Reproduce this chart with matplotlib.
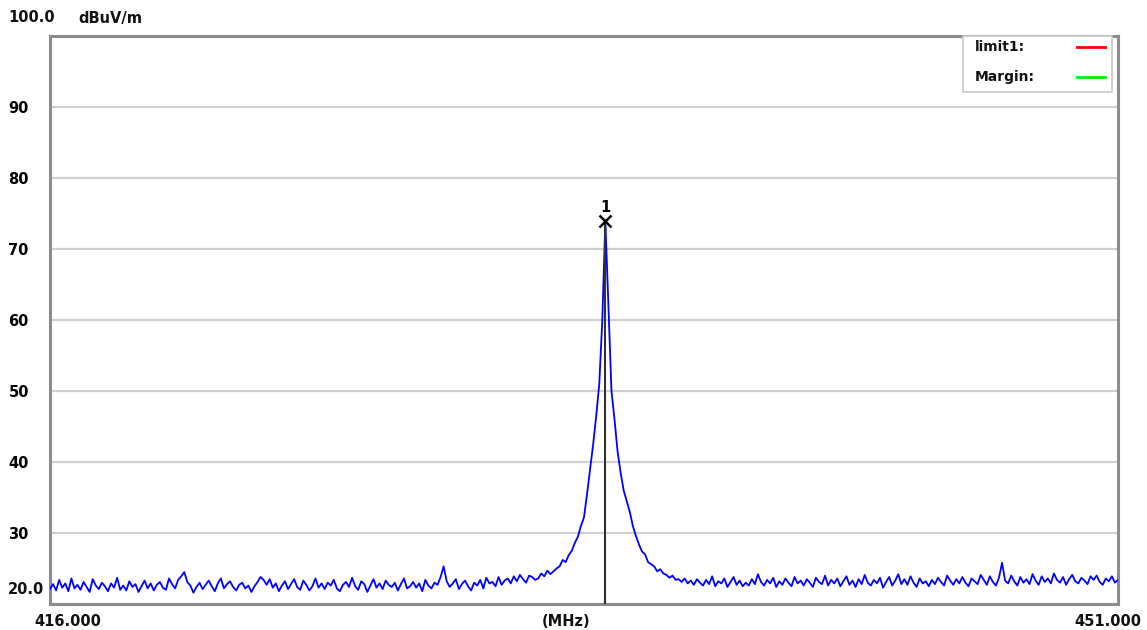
import numpy as np
import matplotlib
matplotlib.use("Agg")
import matplotlib.pyplot as plt
from matplotlib.lines import Line2D
from matplotlib.patches import Rectangle

# ---- data ----
f_start, f_stop, f_step = 416.0, 451.0, 0.1
level = [
    22.1, 22.8, 21.9, 23.4, 22.3, 22.9, 21.8, 23.6, 22.2, 22.7,
    22.0, 23.1, 22.4, 21.7, 23.5, 22.6, 22.1, 23.0, 22.5, 21.8,
    22.9, 22.3, 23.7, 22.0, 22.6, 21.9, 23.2, 22.4, 22.8, 21.7,
    22.5, 23.3, 22.2, 22.9, 21.9, 22.7, 23.1, 22.3, 22.0, 23.6,
    22.8, 22.2, 23.4, 23.9, 24.5, 23.1, 22.6, 21.6, 22.4, 23.0,
    22.1, 22.7, 23.3, 22.5, 21.8, 22.9, 23.6, 22.2, 22.8, 23.2,
    22.4, 21.9, 22.7, 23.0, 22.2, 22.6, 21.7, 22.5, 23.1, 23.8,
    23.4, 22.7, 23.5, 22.3, 22.9, 21.8, 22.6, 23.2, 22.1, 22.8,
    23.5, 22.4, 22.0, 23.3, 22.7, 21.9, 22.5, 23.6, 22.3, 22.9,
    22.1, 23.0, 22.6, 23.4, 22.2, 21.8, 22.7, 23.1, 22.4, 23.7,
    22.5, 22.0, 23.2, 22.8, 21.7, 22.6, 23.5, 22.3, 22.9, 22.1,
    23.3, 22.7, 22.4, 23.0, 21.9, 22.8, 23.6, 22.2, 22.5, 23.1,
    22.3, 22.9, 21.8, 23.4, 22.6, 22.2, 23.0, 22.7, 23.8, 25.3,
    23.2, 22.4, 22.9, 23.5, 22.1, 22.8, 23.3, 22.5, 21.9, 23.0,
    22.6, 23.4, 22.2, 23.7, 22.9, 23.1, 22.5, 23.8, 22.7, 23.3,
    23.6, 22.9, 23.9, 23.2, 24.1, 23.5, 23.0, 24.0, 23.8, 23.4,
    23.6, 24.3, 23.9, 24.7, 24.2, 24.6, 25.0, 25.3, 26.2, 25.9,
    26.9, 27.5, 28.6, 29.5, 31.0, 32.2, 35.5, 39.0, 42.5, 46.5,
    51.0, 60.0, 74.0, 62.0, 50.0, 46.0, 41.5, 38.5, 36.0, 34.5,
    33.0, 31.0, 29.6, 28.4, 27.4, 27.0, 25.9, 25.6, 25.3, 24.6,
    24.9, 24.3, 24.1, 23.7, 24.0, 23.4, 23.5, 23.1, 23.6, 22.9,
    23.3, 22.7, 23.5, 23.0, 22.6, 23.4, 22.8, 23.9, 22.5, 23.2,
    22.9, 23.6, 22.4, 23.1, 23.8, 22.7, 23.3, 22.5, 23.0, 22.6,
    23.5, 22.8, 24.2, 23.1, 22.6, 23.4, 22.9, 23.7, 22.4, 23.2,
    22.7, 23.6, 23.0, 22.5, 23.8, 22.9, 23.3, 22.6, 23.5, 23.0,
    22.4, 23.7, 23.1, 22.8, 24.0, 22.6, 23.4, 22.9, 23.6, 22.5,
    23.2, 23.9, 22.7, 23.3, 22.4, 23.5, 22.8, 24.1, 23.0, 22.6,
    23.4, 22.9, 23.7, 22.3, 23.1, 23.8, 22.6, 23.3, 24.2, 22.8,
    23.5, 22.7, 23.9, 23.0, 22.4, 23.6, 22.9, 23.2, 22.5, 23.4,
    22.8, 23.7, 23.1, 22.6, 24.0, 23.3, 22.7, 23.5, 22.9, 23.8,
    23.0, 22.5, 23.6, 23.2, 22.8, 24.1, 23.4, 22.7, 23.9, 23.1,
    22.6, 23.7, 25.8, 23.3, 22.9, 24.0, 23.2, 22.6, 23.8, 23.0,
    23.5, 22.8, 24.2, 23.3, 22.7, 23.9, 23.1, 23.6, 22.9, 24.3,
    23.4, 23.0, 23.8, 22.7, 23.5, 24.1, 23.2, 22.9, 23.7, 23.3,
    22.8, 23.9, 23.4, 24.0, 23.1, 22.7, 23.6, 23.2, 23.9, 23.0,
    23.4,
]
marker_freq = 434.2
marker_level = 74.0
y_ticks = [30, 40, 50, 60, 70, 80, 90]
y_tick_labels = ["30", "40", "50", "60", "70", "80", "90"]
y_min, y_max = 20.0, 100.0
unit_label = "dBuV/m"
x_unit_label = "(MHz)"
x_unit_pos = 432.9
legend_items = [("limit1:", "#ff0000"), ("Margin:", "#00ee00")]

freq = f_start + f_step * np.arange(len(level))

# ---- figure ----
W, H = 1147, 630
fig = plt.figure(figsize=(W / 100, H / 100), dpi=100)
fig.patch.set_facecolor("white")
ax = fig.add_axes([50 / W, 1 - 604 / H, (1118 - 50) / W, (604 - 36) / H])
ax.set_xlim(f_start, f_stop)
ax.set_ylim(y_min, y_max)

for s in ax.spines.values():
    s.set_color("#8c8c8c")
    s.set_linewidth(2.2)

ax.set_yticks(y_ticks)
ax.set_yticklabels(y_tick_labels)
ax.tick_params(axis="y", length=0, pad=30, labelsize=10.5)
for lbl in ax.get_yticklabels():
    lbl.set_horizontalalignment("left")
    lbl.set_fontweight("bold")
ax.set_xticks([])
ax.grid(axis="y", color="#cfcfcf", linewidth=1.6)
ax.set_axisbelow(True)

ax.plot(freq, level, color="#0000ff", linewidth=1.3, zorder=3)

# marker
ax.plot([marker_freq, marker_freq], [y_min, marker_level], color="#303030", linewidth=1.5, zorder=4)
ax.plot([marker_freq], [marker_level], marker="x", color="black", markersize=8,
        markeredgewidth=1.8, zorder=5)
ax.annotate("1", (marker_freq, marker_level), xytext=(0, 4), textcoords="offset points",
            ha="center", va="bottom", fontsize=10.5, fontweight="bold")

# axis texts
tf = dict(fontsize=10.5, fontweight="bold", color="#111111")
fig.text(8 / W, 1 - 18 / H, "100.0", ha="left", va="center", **tf)
fig.text(78 / W, 1 - 18 / H, unit_label, ha="left", va="center", **tf)
fig.text(8 / W, 1 - 590 / H, "20.0", ha="left", va="center", **tf)
ax.annotate(f"{f_start:.3f}", (f_start, y_min), xytext=(18, -17), textcoords="offset pixels",
            ha="center", va="center", **tf)
ax.annotate(f"{f_stop:.3f}", (f_stop, y_min), xytext=(-10, -17), textcoords="offset pixels",
            ha="center", va="center", **tf)
ax.annotate(x_unit_label, (x_unit_pos, y_min), xytext=(0, -17), textcoords="offset pixels",
            ha="center", va="center", **tf)

# legend box
lx0, ly0, lx1, ly1 = 963, 36, 1112, 92
fig.patches.append(Rectangle((lx0 / W, 1 - ly1 / H), (lx1 - lx0) / W, (ly1 - ly0) / H,
                             transform=fig.transFigure, facecolor="white",
                             edgecolor="#c8c8c8", linewidth=1.2, zorder=10))
for i, (name, col) in enumerate(legend_items):
    yy = 1 - (47 + 30 * i) / H
    fig.text(975 / W, yy, name, ha="left", va="center", fontsize=10, fontweight="bold",
             color="#111111", zorder=11)
    fig.add_artist(Line2D([1077 / W, 1105 / W], [yy, yy], color=col, linewidth=2,
                          transform=fig.transFigure, zorder=11))

fig.savefig("out.png", dpi=100, facecolor="white")
